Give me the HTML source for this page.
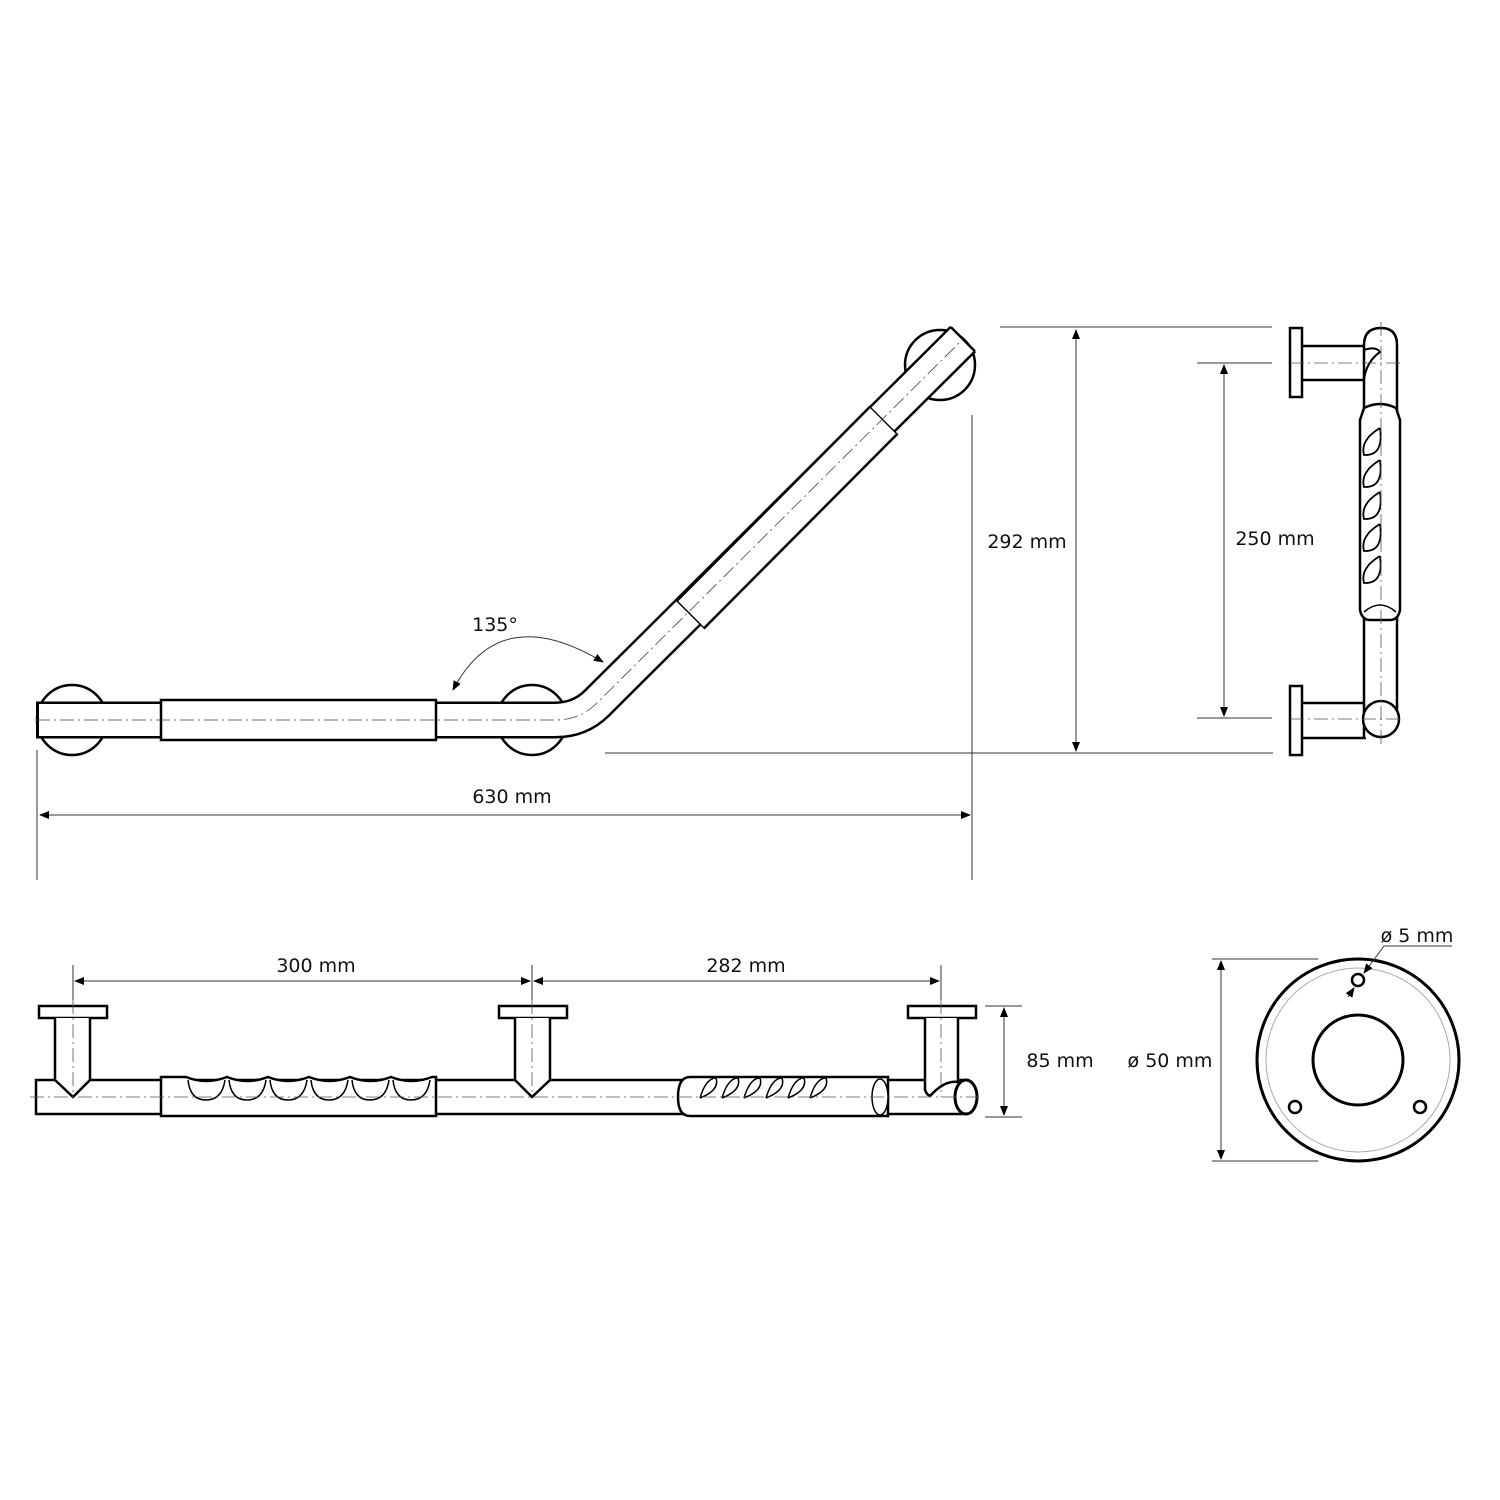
<!DOCTYPE html>
<html><head><meta charset="utf-8"><style>
html,body{margin:0;padding:0;background:#fff}
svg{display:block}
text{font-family:"DejaVu Sans","Liberation Sans",sans-serif;font-size:19px;fill:#111}
</style></head><body>
<svg width="1500" height="1500" viewBox="0 0 1500 1500" xmlns="http://www.w3.org/2000/svg">
<defs>
<marker id="a" markerWidth="10" markerHeight="8" refX="9" refY="4" orient="auto-start-reverse" markerUnits="userSpaceOnUse"><path d="M0,0 L10,4 L0,8 z" fill="#000"/></marker>
</defs>
<g fill="none" stroke="#000">
<!-- ===== TOP VIEW ===== -->
<circle cx="72" cy="720" r="35" stroke-width="2.5" fill="#fff"/>
<circle cx="532" cy="720" r="35" stroke-width="2.5" fill="#fff"/>
<circle cx="940" cy="365" r="35" stroke-width="2.5" fill="#fff"/>
<path d="M36,720 L555,720 Q580,720 597,703 L963,339" stroke-width="37" stroke-linejoin="round"/>
<path d="M37.5,720 L555,720 Q580,720 597,703 L962,340" stroke="#fff" stroke-width="32" stroke-linejoin="round"/>
<line x1="38" y1="703" x2="38" y2="737" stroke-width="2"/>
<line x1="951" y1="327" x2="975" y2="351" stroke-width="2"/>
<rect x="161" y="700" width="275" height="40" stroke-width="2.5" fill="#fff"/>
<line x1="690" y1="615" x2="884" y2="420" stroke-width="41"/>
<line x1="691" y1="614" x2="883" y2="421" stroke="#fff" stroke-width="36"/>
<path d="M36,720 L555,720 Q580,720 597,703 L963,339" stroke="#444" stroke-width="0.8" stroke-dasharray="14,4,2,4"/>
<g stroke="#333" stroke-width="1">
<line x1="37" y1="750" x2="37" y2="880"/>
<line x1="972" y1="415" x2="972" y2="880"/>
<line x1="40" y1="815" x2="970" y2="815" marker-start="url(#a)" marker-end="url(#a)"/>
<line x1="1000" y1="327" x2="1272" y2="327"/>
<line x1="605" y1="753" x2="1273" y2="753"/>
<line x1="1076" y1="330" x2="1076" y2="751" marker-start="url(#a)" marker-end="url(#a)"/>
<path d="M453,690 Q500,600 603,662" marker-start="url(#a)" marker-end="url(#a)"/>
<line x1="1197" y1="363" x2="1272" y2="363"/>
<line x1="1197" y1="718" x2="1272" y2="718"/>
<line x1="1224" y1="365" x2="1224" y2="716" marker-start="url(#a)" marker-end="url(#a)"/>
</g>
<!-- ===== SIDE VIEW ===== -->
<rect x="1290" y="328" width="12" height="69" stroke-width="2.5" fill="#fff"/>
<rect x="1290" y="686" width="12" height="69" stroke-width="2.5" fill="#fff"/>
<path d="M1302,346 L1366,346 M1302,380 L1364,380" stroke-width="2.5"/>
<path d="M1302,703 L1366,703 M1302,738 L1366,738" stroke-width="2.5"/>
<path d="M1364,738 L1364,345 Q1364,328 1381,328 Q1397,328 1397,345 L1397,720" stroke-width="2.5" fill="#fff"/>
<path d="M1364,350 Q1376,346 1380,352 Q1366,362 1364,380" stroke-width="2"/>
<path d="M1364,408 Q1380,400 1396,408 L1400,420 L1400,610 Q1398,620 1390,620 L1370,620 Q1362,620 1360,610 L1360,420 Z" stroke-width="2.5" fill="#fff"/>
<path d="M1364,612 Q1380,598 1396,612" stroke-width="1.5"/>
<g stroke-width="1.8">
<path d="M1380,428 Q1360,440 1364,455 Q1384,456 1380,428 M1380,460 Q1360,472 1364,487 Q1384,488 1380,460 M1380,492 Q1360,504 1364,519 Q1384,520 1380,492 M1380,524 Q1360,536 1364,551 Q1384,552 1380,524 M1380,556 Q1360,568 1364,583 Q1384,584 1380,556"/>
</g>
<circle cx="1381" cy="719" r="18" stroke-width="2.5" fill="#fff"/>
<line x1="1381" y1="322" x2="1381" y2="745" stroke="#555" stroke-width="0.8" stroke-dasharray="14,4,2,4"/>
<line x1="1290" y1="363" x2="1400" y2="363" stroke="#555" stroke-width="0.8" stroke-dasharray="14,4,2,4"/>
<line x1="1290" y1="719" x2="1402" y2="719" stroke="#555" stroke-width="0.8" stroke-dasharray="14,4,2,4"/>
<!-- ===== BOTTOM VIEW ===== -->
<rect x="36" y="1080" width="930" height="34" stroke-width="2.5" fill="#fff"/>
<path d="M161,1077 L186,1077 Q206,1085 227,1077 Q247,1085 268,1077 Q288,1085 309,1077 Q329,1085 350,1077 Q370,1085 391,1077 Q411,1085 432,1077 L436,1077 L436,1116 L161,1116 Z" stroke-width="2.5" fill="#fff"/>
<path d="M690,1077 L888,1077 L888,1116 L690,1116 Q678,1116 678,1097 Q678,1077 690,1077" stroke-width="2.5" fill="#fff"/>
<ellipse cx="880" cy="1097" rx="8" ry="18" stroke-width="1.5" fill="#fff"/>
<g stroke-width="1.5">
<path d="M188,1080 Q190,1100 206,1100 Q222,1100 225,1080 M229,1080 Q231,1100 247,1100 Q263,1100 266,1080 M270,1080 Q272,1100 288,1100 Q304,1100 307,1080 M311,1080 Q313,1100 329,1100 Q345,1100 348,1080 M352,1080 Q354,1100 370,1100 Q386,1100 389,1080 M393,1080 Q395,1100 411,1100 Q427,1100 430,1080"/>
<path d="M700,1098 Q706,1078 716,1078 Q720,1090 700,1098 M722,1098 Q728,1078 738,1078 Q742,1090 722,1098 M744,1098 Q750,1078 760,1078 Q764,1090 744,1098 M766,1098 Q772,1078 782,1078 Q786,1090 766,1098 M788,1098 Q794,1078 804,1078 Q808,1090 788,1098 M810,1098 Q816,1078 826,1078 Q830,1090 810,1098"/>
</g>
<rect x="39" y="1006" width="68" height="12" stroke-width="2.5" fill="#fff"/>
<path d="M55,1018 L55,1080 L73,1097 L90,1080 L90,1018" stroke-width="2.5" fill="#fff"/>
<rect x="499" y="1006" width="68" height="12" stroke-width="2.5" fill="#fff"/>
<path d="M515,1018 L515,1080 L532,1097 L550,1080 L550,1018" stroke-width="2.5" fill="#fff"/>
<rect x="908" y="1006" width="68" height="12" stroke-width="2.5" fill="#fff"/>
<path d="M925,1018 L925,1090 Q928,1097 931,1095 Q945,1080 958,1082 L958,1018" stroke-width="2.5" fill="#fff"/>
<ellipse cx="966" cy="1097" rx="11" ry="17" stroke-width="3" fill="#fff"/>
<line x1="30" y1="1097" x2="978" y2="1097" stroke="#555" stroke-width="0.8" stroke-dasharray="14,4,2,4"/>
<g stroke="#555" stroke-width="0.8" stroke-dasharray="14,4,2,4">
<line x1="73" y1="1000" x2="73" y2="1097"/><line x1="532" y1="1000" x2="532" y2="1097"/><line x1="941" y1="1000" x2="941" y2="1097"/>
</g>
<g stroke="#333" stroke-width="1">
<line x1="73" y1="965" x2="73" y2="1000"/><line x1="532" y1="965" x2="532" y2="1000"/><line x1="941" y1="965" x2="941" y2="1000"/>
<line x1="75" y1="981" x2="530" y2="981" marker-start="url(#a)" marker-end="url(#a)"/>
<line x1="534" y1="981" x2="939" y2="981" marker-start="url(#a)" marker-end="url(#a)"/>
<line x1="985" y1="1006" x2="1022" y2="1006"/><line x1="985" y1="1117" x2="1022" y2="1117"/>
<line x1="1004" y1="1008" x2="1004" y2="1115" marker-start="url(#a)" marker-end="url(#a)"/>
</g>
<!-- ===== ROSETTE ===== -->
<circle cx="1358" cy="1060" r="101" stroke-width="3"/>
<circle cx="1358" cy="1060" r="92" stroke="#aaa" stroke-width="1"/>
<circle cx="1358" cy="1060" r="45" stroke-width="3"/>
<circle cx="1358" cy="980" r="6" stroke-width="2.5"/>
<circle cx="1295" cy="1107" r="6" stroke-width="2.5"/>
<circle cx="1420" cy="1107" r="6" stroke-width="2.5"/>
<g stroke="#333" stroke-width="1">
<line x1="1212" y1="959" x2="1318" y2="959"/><line x1="1212" y1="1161" x2="1318" y2="1161"/>
<line x1="1221" y1="961" x2="1221" y2="1159" marker-start="url(#a)" marker-end="url(#a)"/>
<line x1="1452" y1="946" x2="1384" y2="946"/>
<line x1="1384" y1="946" x2="1364" y2="973" marker-end="url(#a)"/>
<line x1="1348" y1="997" x2="1354" y2="988" marker-end="url(#a)"/>
</g>
</g>
<text x="512" y="803" text-anchor="middle">630 mm</text>
<text x="1027" y="548" text-anchor="middle">292 mm</text>
<text x="1275" y="545" text-anchor="middle">250 mm</text>
<text x="495" y="631" text-anchor="middle">135°</text>
<text x="316" y="972" text-anchor="middle">300 mm</text>
<text x="746" y="972" text-anchor="middle">282 mm</text>
<text x="1060" y="1067" text-anchor="middle">85 mm</text>
<text x="1170" y="1067" text-anchor="middle">ø 50 mm</text>
<text x="1417" y="942" text-anchor="middle">ø 5 mm</text>
</svg>
</body></html>
